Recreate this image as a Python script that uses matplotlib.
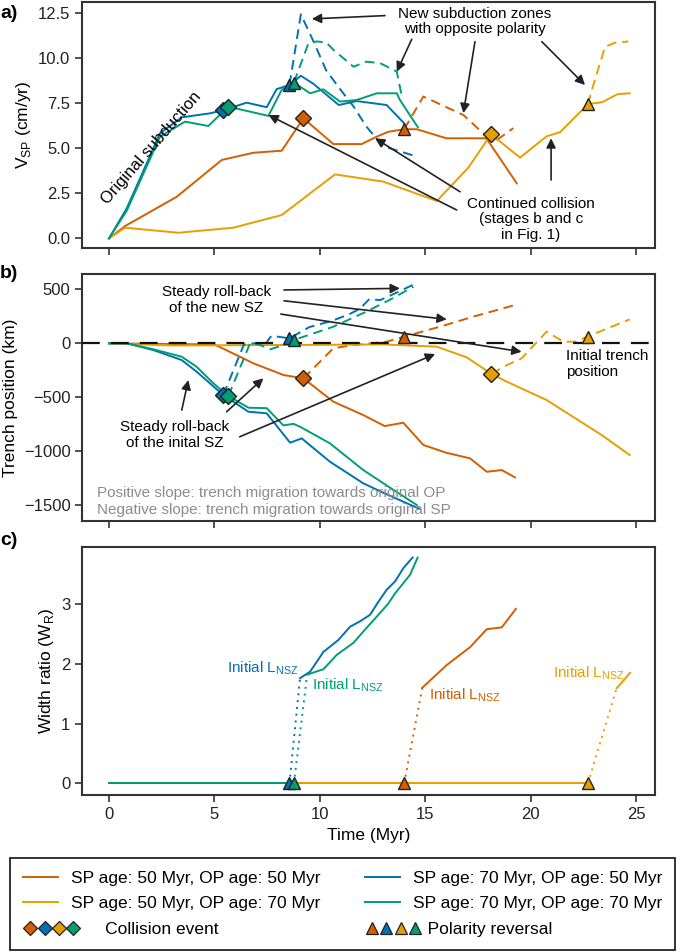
import matplotlib.pyplot as plt
from matplotlib.lines import Line2D
from matplotlib.legend_handler import HandlerBase

plt.rcParams['font.family'] = ['Liberation Sans', 'DejaVu Sans']
plt.rcParams['mathtext.fontset'] = 'custom'
plt.rcParams['mathtext.rm'] = 'Liberation Sans'
plt.rcParams['axes.edgecolor'] = '#333333'
plt.rcParams['xtick.color'] = '#333333'
plt.rcParams['ytick.color'] = '#333333'
plt.rcParams['xtick.labelcolor'] = '#222222'
plt.rcParams['ytick.labelcolor'] = '#222222'

# colours of the four models
C_5050 = '#D55E00'
C_5070 = '#E69F00'
C_7050 = '#0072B2'
C_7070 = '#009E73'

LABELS = ['SP age: 50 Myr, OP age: 50 Myr', 'SP age: 50 Myr, OP age: 70 Myr',
          'SP age: 70 Myr, OP age: 50 Myr', 'SP age: 70 Myr, OP age: 70 Myr']

# ---------------- panel a: V_SP (cm/yr)
a_5050_t = [0, 0.76, 3.21, 5.35, 6.85, 8.19, 9.22, 10.64, 11.99, 12.7, 13.25, 14.0, 14.6, 16.0, 17.9, 19.34]
a_5050_v = [0, 0.68, 2.3, 4.34, 4.74, 4.85, 6.65, 5.22, 5.22, 5.63, 5.9, 6.04, 6.04, 5.54, 5.54, 3.05]
a_5050_dt = [14.0, 14.91, 16.81, 17.92, 18.4, 19.18]
a_5050_dv = [6.04, 7.85, 6.83, 5.63, 5.45, 6.1]

a_5070_t = [0, 0.76, 3.29, 5.9, 8.19, 10.72, 13.01, 15.55, 17.05, 18.12, 19.5, 20.76, 21.4, 22.72, 23.4, 24.12, 24.7]
a_5070_v = [0, 0.59, 0.31, 0.59, 1.29, 3.54, 3.14, 2.07, 3.92, 5.76, 4.47, 5.65, 5.88, 7.43, 7.54, 7.98, 8.03]
a_5070_dt = [22.72, 22.9, 23.53, 24.0, 24.63]
a_5070_dv = [7.43, 8.2, 10.6, 10.83, 10.9]

a_7050_t = [0, 0.84, 2.42, 3.45, 4.79, 5.42, 6.53, 7.48, 7.95, 8.56, 9.1, 9.7, 10.9, 11.75, 13.17, 14.0]
a_7050_v = [0, 1.66, 5.82, 6.7, 6.92, 7.1, 7.51, 7.26, 8.26, 8.49, 9.0, 8.55, 7.38, 7.6, 7.38, 6.37]
a_7050_dt = [8.56, 9.1, 9.7, 10.3, 11.0, 11.6, 12.2, 13.0, 14.4]
a_7050_dv = [8.49, 12.4, 10.9, 9.3, 8.2, 7.3, 6.2, 5.1, 4.6]

a_7070_t = [0, 0.84, 2.42, 3.6, 4.71, 5.66, 7.56, 8.19, 8.77, 9.54, 10.17, 10.96, 11.75, 12.7, 13.65, 13.8, 14.65]
a_7070_v = [0, 1.53, 5.63, 6.46, 6.22, 7.29, 6.78, 8.22, 8.62, 8.03, 8.25, 7.57, 7.66, 8.03, 8.03, 7.66, 6.15]
a_7070_dt = [8.77, 9.46, 9.85, 10.3, 10.65, 11.6, 12.2, 12.86, 13.65, 13.9]
a_7070_dv = [8.62, 10.8, 10.9, 10.85, 10.43, 9.5, 9.78, 9.7, 9.23, 7.8]

# collision (diamond) and reversal (triangle) events, order 5050, 7050, 5070, 7070
coll_t = [9.22, 5.42, 18.12, 5.66]
rev_t = [14.0, 8.56, 22.72, 8.77]
a_coll_v = [6.65, 7.1, 5.76, 7.29]
a_rev_v = [6.04, 8.49, 7.43, 8.62]

# ---------------- panel b: trench position (km)
b_5050_t = [0, 5.0, 6.85, 8.27, 9.22, 10.64, 12.06, 13.08, 13.96, 14.91, 16.0, 17.13, 17.92, 18.63, 19.26]
b_5050_v = [0, -10, -185, -293, -324, -540, -664, -766, -735, -941, -1013, -1065, -1189, -1173, -1241]
b_5050_dt = [9.22, 10.64, 11.58, 13.17, 14.0, 15.7, 17.28, 19.26]
b_5050_dv = [-324, -46, -16, 15, 62, 154, 247, 355]

b_5070_t = [0, 3, 9, 13, 15.55, 16.97, 18.15, 18.87, 20.76, 23.37, 24.7]
b_5070_v = [0, -20, -15, -10, -31, -130, -284, -355, -525, -849, -1034]
b_5070_dt = [18.15, 18.72, 19.57, 20.76, 21.55, 22.1, 22.69, 24.7]
b_5070_dv = [-284, -216, -139, 108, 15, 15, 62, 222]

b_7050_t = [0, 0.84, 2.1, 3.45, 4.16, 5.42, 6.61, 7.48, 8.59, 9.14, 10.48, 12.06, 13.2, 14.7]
b_7050_v = [0, 0, -62, -155, -263, -479, -633, -648, -920, -880, -1096, -1296, -1400, -1530]
b_7050_dt = [5.42, 6.4, 6.9, 7.35, 7.7, 8.56, 9.5, 10.6, 11.4, 11.9, 12.35, 12.86, 13.65, 14.4]
b_7050_dv = [-479, -10, 0, -25, 70, 46, 150, 210, 270, 320, 410, 400, 470, 540]

b_7070_t = [0, 0.84, 2.1, 3.45, 4.15, 4.95, 5.66, 6.61, 7.48, 8.27, 8.75, 9.06, 10.48, 12.06, 13.5, 14.6]
b_7070_v = [0, 0, -55, -124, -216, -370, -488, -596, -600, -760, -745, -772, -926, -1173, -1358, -1497]
b_7070_dt = [5.66, 6.69, 7.0, 7.64, 8.27, 8.77, 10.64, 12.2, 13.3, 14.44]
b_7070_dv = [-488, 0, 0, -56, -16, 31, 154, 293, 401, 524]

b_coll_v = [-324, -479, -284, -488]
b_rev_v = [62, 46, 62, 31]

# ---------------- panel c: width ratio
c_5050_t = [14.86, 16.02, 17.13, 17.92, 18.63, 19.3]
c_5050_v = [1.6, 1.98, 2.28, 2.58, 2.61, 2.92]
c_5070_t = [24.08, 24.72]
c_5070_v = [1.59, 1.85]
c_7050_t = [9.06, 9.54, 10.17, 10.88, 11.43, 11.9, 12.38, 12.78, 13.17, 13.57, 13.96, 14.4]
c_7050_v = [1.76, 1.87, 2.2, 2.4, 2.62, 2.71, 2.82, 3.04, 3.24, 3.38, 3.6, 3.78]
c_7070_t = [9.4, 10.17, 10.8, 11.59, 12.06, 12.7, 13.25, 13.57, 14.28, 14.64]
c_7070_v = [1.82, 1.91, 2.15, 2.35, 2.54, 2.79, 3.01, 3.18, 3.49, 3.78]

EV_COLORS = [C_5050, C_7050, C_5070, C_7070]
LW = 1.4
DASH = (0, (5, 3))
FS = 11

fig = plt.figure(figsize=(6.85, 9.52), dpi=100)
L, W = 0.1201, 0.8361
ax_a = fig.add_axes([L, 0.7392, W, 0.2590])
ax_b = fig.add_axes([L, 0.4527, W, 0.2595])
ax_c = fig.add_axes([L, 0.1646, W, 0.2611])


def events(ax, cv, rv):
    for i, c in enumerate(EV_COLORS):
        ax.plot(coll_t[i], cv[i], 'D', ms=8, mfc=c, mec='#222222', mew=1.0, zorder=6)
    for i, c in enumerate(EV_COLORS):
        ax.plot(rev_t[i], rv[i], '^', ms=9, mfc=c, mec='#222222', mew=1.0, zorder=6)


# ---- a
ax = ax_a
for t, v, dt, dv, c in [(a_5050_t, a_5050_v, a_5050_dt, a_5050_dv, C_5050),
                        (a_5070_t, a_5070_v, a_5070_dt, a_5070_dv, C_5070),
                        (a_7050_t, a_7050_v, a_7050_dt, a_7050_dv, C_7050),
                        (a_7070_t, a_7070_v, a_7070_dt, a_7070_dv, C_7070)]:
    ax.plot(t, v, color=c, lw=LW)
    ax.plot(dt, dv, color=c, lw=LW, ls=DASH)
events(ax, a_coll_v, a_rev_v)
ax.set_ylim(-0.55, 13.1)
ax.set_yticks([0, 2.5, 5, 7.5, 10, 12.5])
ax.set_yticklabels(['0.0', '2.5', '5.0', '7.5', '10.0', '12.5'])
ax.set_ylabel('V$_{\\mathregular{SP}}$ (cm/yr)', fontsize=12.5)

arr = dict(arrowstyle='-|>', color='#222222', lw=1.2, mutation_scale=14, shrinkA=0, shrinkB=0)
ax.text(2.0, 5.0, 'Original subduction', rotation=49, ha='center', va='center', fontsize=12)
ax.text(17.36, 12.0, 'New subduction zones\nwith opposite polarity', ha='center', va='center',
        fontsize=FS, linespacing=1.15)
for tail, head in [((13.09, 12.33), (9.62, 12.15)), ((14.36, 11.02), (13.65, 9.23)),
                   ((17.36, 10.89), (16.81, 6.93)), ((20.53, 10.89), (22.58, 8.49))]:
    ax.annotate('', xy=head, xytext=tail, arrowprops=arr)
ax.text(20.02, 1.05, 'Continued collision\n(stages b and c\nin Fig. 1)', ha='center', va='center',
        fontsize=FS, linespacing=1.15)
for tail, head in [((16.65, 2.58), (12.62, 5.54)), ((16.49, 1.57), (7.56, 6.83)),
                   ((20.97, 3.23), (20.97, 5.54))]:
    ax.annotate('', xy=head, xytext=tail, arrowprops=arr)

# ---- b
ax = ax_b
ax.axhline(0, color='#111111', lw=1.6, ls=(0, (8, 5)), zorder=3)
for t, v, dt, dv, c in [(b_5050_t, b_5050_v, b_5050_dt, b_5050_dv, C_5050),
                        (b_5070_t, b_5070_v, b_5070_dt, b_5070_dv, C_5070),
                        (b_7050_t, b_7050_v, b_7050_dt, b_7050_dv, C_7050),
                        (b_7070_t, b_7070_v, b_7070_dt, b_7070_dv, C_7070)]:
    ax.plot(t, v, color=c, lw=LW, zorder=2)
    ax.plot(dt, dv, color=c, lw=LW, ls=DASH, zorder=2)
events(ax, b_coll_v, b_rev_v)
ax.set_ylim(-1645, 642)
ax.set_yticks([500, 0, -500, -1000, -1500])
ax.set_ylabel('Trench position (km)', fontsize=12.5)
ax.text(5.09, 400, 'Steady roll-back\nof the new SZ', ha='center', va='center', fontsize=FS,
        linespacing=1.15)
for tail, head in [((8.3, 494), (13.8, 509)), ((8.3, 394), (16.02, 222)), ((8.15, 271), (19.57, -78))]:
    ax.annotate('', xy=head, xytext=tail, arrowprops=arr)
ax.text(3.13, -850, 'Steady roll-back\nof the inital SZ', ha='center', va='center', fontsize=FS,
        linespacing=1.15)
for tail, head in [((3.45, -618), (3.76, -340)), ((5.58, -633), (7.32, -324)), ((6.2, -865), (15.47, -99))]:
    ax.annotate('', xy=head, xytext=tail, arrowprops=arr)
ax.text(21.7, -55, 'Initial trench\nposition', ha='left', va='top', fontsize=FS, linespacing=1.15)
ax.text(-0.57, -1386, 'Positive slope: trench migration towards original OP', ha='left', va='center',
        fontsize=11, color='#8c8c8c')
ax.text(-0.57, -1543, 'Negative slope: trench migration towards original SP', ha='left', va='center',
        fontsize=11, color='#8c8c8c')

# ---- c
ax = ax_c
for t, v, c, k in [(c_5050_t, c_5050_v, C_5050, 0), (c_5070_t, c_5070_v, C_5070, 2),
                   (c_7050_t, c_7050_v, C_7050, 1), (c_7070_t, c_7070_v, C_7070, 3)]:
    ax.plot([0, rev_t[k]], [0, 0], color=c, lw=LW)
    ax.plot([rev_t[k], t[0]], [0, v[0]], color=c, lw=LW, ls=(0, (1, 2.5)))
    ax.plot(t, v, color=c, lw=LW)
for i, c in enumerate(EV_COLORS):
    ax.plot(rev_t[i], 0, '^', ms=9, mfc=c, mec='#222222', mew=1.0, zorder=6)
ax.set_ylim(-0.2, 3.96)
ax.set_yticks([0, 1, 2, 3])
ax.set_ylabel('Width ratio (W$_{\\mathregular{R}}$)', fontsize=12.5)
ax.set_xlabel('Time (Myr)', fontsize=12.5)
lab = 'Initial L$_{\\mathregular{NSZ}}$'
ax.text(8.97, 1.86, lab, color=C_7050, ha='right', va='baseline', fontsize=FS)
ax.text(9.62, 1.58, lab, color=C_7070, ha='left', va='baseline', fontsize=FS)
ax.text(15.2, 1.41, lab, color=C_5050, ha='left', va='baseline', fontsize=FS)
ax.text(21.08, 1.78, lab, color=C_5070, ha='left', va='baseline', fontsize=FS)

for ax in (ax_a, ax_b, ax_c):
    ax.set_xlim(-1.27, 25.9)
    ax.set_xticks([0, 5, 10, 15, 20, 25])
    ax.tick_params(labelsize=12, width=1.2, length=5)
    for s in ax.spines.values():
        s.set_linewidth(1.5)
ax_a.tick_params(labelbottom=False)
ax_b.tick_params(labelbottom=False)

for y, s in [(0.986, 'a)'), (0.713, 'b)'), (0.432, 'c)')]:
    fig.text(0.0, y, s, fontsize=14, fontweight='bold', ha='left', va='center')


class MarkerRow(HandlerBase):
    # four event markers side by side, wider than the line handles
    def create_artists(self, legend, orig_handle, xdescent, ydescent, width, height, fontsize, trans):
        span = width * 1.65
        out = []
        for i, c in enumerate(EV_COLORS):
            x = -xdescent + span * (i + 0.5) / len(EV_COLORS)
            out.append(Line2D([x], [height / 2 - ydescent], ls='', marker=orig_handle.get_marker(),
                              ms=orig_handle.get_markersize(), mfc=c, mec='#222222', mew=0.9,
                              transform=trans))
        return out


h_lines = [Line2D([], [], color=c, lw=LW) for c in [C_5050, C_5070, C_7050, C_7070]]
h_coll = Line2D([], [], ls='', marker='D', ms=7.5)
h_rev = Line2D([], [], ls='', marker='^', ms=8)
handles = [h_lines[0], h_lines[1], h_coll, h_lines[2], h_lines[3], h_rev]
labels = [LABELS[0], LABELS[1], '       Collision event', LABELS[2], LABELS[3], '   Polarity reversal']
leg = fig.legend(handles, labels, loc='lower left', bbox_to_anchor=(10 / 685, 2 / 952, 665 / 685, 92 / 952),
                 mode='expand', ncol=2, fancybox=False, edgecolor='#111111', framealpha=1,
                 handlelength=2.0, handletextpad=0.75, labelspacing=0.6, borderpad=0.75,
                 fontsize=12.5, borderaxespad=0,
                 handler_map={h_coll: MarkerRow(), h_rev: MarkerRow()})
leg.get_frame().set_linewidth(1.2)

fig.savefig('out.png', dpi=100)
